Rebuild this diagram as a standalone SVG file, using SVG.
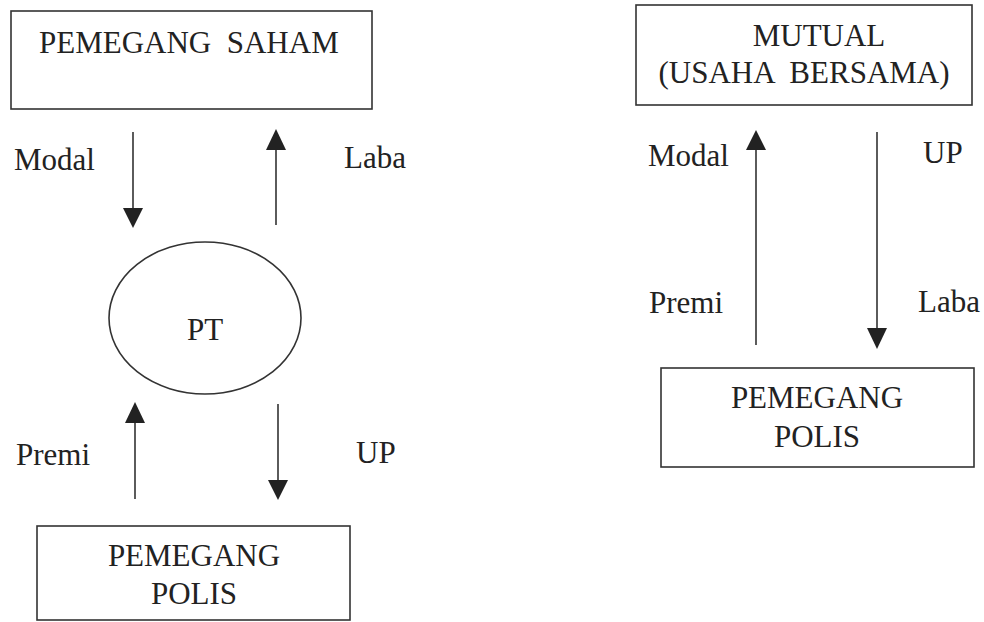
<svg xmlns="http://www.w3.org/2000/svg" width="984" height="622" viewBox="0 0 984 622">
<style>
text{font-family:"Liberation Serif","Times New Roman",serif;font-size:31px;fill:#222}
.box{fill:none;stroke:#333;stroke-width:1.6}
.ln{stroke:#333;stroke-width:1.6;fill:none}
.hd{fill:#222}
</style>
<rect width="984" height="622" fill="#fff"/>
<g id="pemegang-saham"><rect class="box" x="11" y="11" width="361" height="98"/><text x="39" y="53" xml:space="preserve">PEMEGANG  SAHAM</text></g>
<g id="pt"><ellipse class="box" cx="205" cy="318" rx="96" ry="76"/><text x="205" y="340" text-anchor="middle">PT</text></g>
<g id="pemegang-polis-1"><rect class="box" x="37" y="526" width="313" height="94"/><text x="194" y="566" text-anchor="middle">PEMEGANG</text><text x="194" y="604" text-anchor="middle">POLIS</text></g>
<g id="mutual"><rect class="box" x="636" y="5" width="336" height="100"/><text x="819" y="46" text-anchor="middle">MUTUAL</text><text x="804" y="83" text-anchor="middle" xml:space="preserve">(USAHA  BERSAMA)</text></g>
<g id="pemegang-polis-2"><rect class="box" x="661" y="368" width="313" height="99"/><text x="817" y="408" text-anchor="middle">PEMEGANG</text><text x="817" y="447" text-anchor="middle">POLIS</text></g>
<g id="connectors">
<line class="ln" x1="133" y1="132" x2="133" y2="210"/><path class="hd" d="M123,208 L143,208 L133,228 Z"/>
<line class="ln" x1="276" y1="225" x2="276" y2="148"/><path class="hd" d="M266,150 L286,150 L276,129 Z"/>
<line class="ln" x1="135" y1="499" x2="135" y2="420"/><path class="hd" d="M125,423 L145,423 L135,402 Z"/>
<line class="ln" x1="278" y1="404" x2="278" y2="482"/><path class="hd" d="M268,480 L288,480 L278,500 Z"/>
<line class="ln" x1="756" y1="345" x2="756" y2="148"/><path class="hd" d="M746,150 L766,150 L756,130 Z"/>
<line class="ln" x1="877" y1="132" x2="877" y2="330"/><path class="hd" d="M867,328 L887,328 L877,349 Z"/>
</g>
<g id="labels">
<text x="14" y="170">Modal</text>
<text x="344" y="168">Laba</text>
<text x="16" y="465">Premi</text>
<text x="356" y="463">UP</text>
<text x="648" y="166">Modal</text>
<text x="923" y="163">UP</text>
<text x="649" y="313">Premi</text>
<text x="918" y="312">Laba</text>
</g>
</svg>
